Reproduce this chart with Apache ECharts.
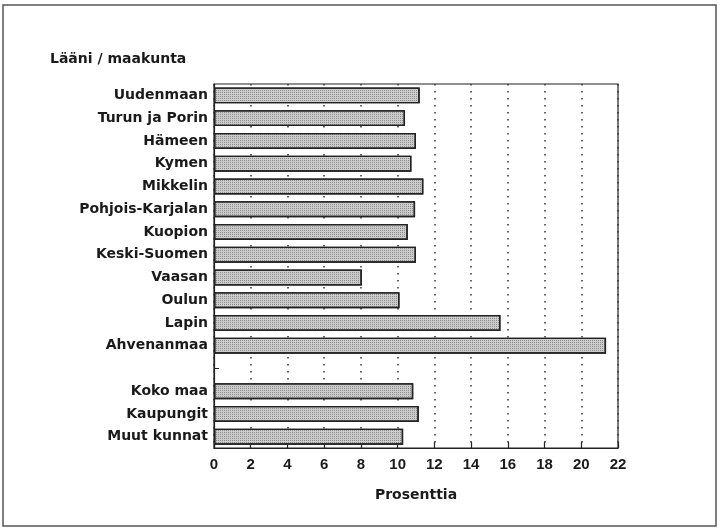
<!DOCTYPE html>
<html>
<head>
<meta charset="utf-8">
<script src="https://cdn.jsdelivr.net/npm/echarts@6/dist/echarts.min.js"></script>
<style>
  html, body { margin: 0; padding: 0; background: #fff; }
  #chart { width: 720px; height: 529px; }
</style>
</head>
<body>
<div id="chart"></div>
<script>
// läänit / maakunta, tyhjä rivi erottaa koko maan rivit
const regions = [
  'Uudenmaan', 'Turun ja Porin', 'Hämeen', 'Kymen', 'Mikkelin',
  'Pohjois-Karjalan', 'Kuopion', 'Keski-Suomen', 'Vaasan', 'Oulun',
  'Lapin', 'Ahvenanmaa', '', 'Koko maa', 'Kaupungit', 'Muut kunnat'
]
const percents = [
  11.2, 10.4, 11.0, 10.75, 11.4,
  10.95, 10.55, 11.0, 8.05, 10.1,
  15.6, 21.35, null, 10.85, 11.15, 10.3
]
const xTicks = [0, 2, 4, 6, 8, 10, 12, 14, 16, 18, 20, 22]

const font = 'DejaVu Sans, Verdana, sans-serif'
const numFont = '"Liberation Sans", Arial, sans-serif'
const ink = '#1a1a1a'

const chart = echarts.init(document.getElementById('chart'), null, { renderer: 'canvas' })

chart.setOption({
  animation: false,
  backgroundColor: '#fff',
  aria: { enabled: true, decal: { show: true } },
  textStyle: { fontFamily: font },
  graphic: [
    {
      type: 'rect',
      shape: { x: 3, y: 5, width: 713, height: 521 },
      style: { fill: 'none', stroke: '#555', lineWidth: 1.5 }
    },
    {
      type: 'text',
      left: 50,
      top: 52,
      style: { text: 'Lääni / maakunta', font: 'bold 14px ' + font, fill: ink }
    }
  ],
  grid: {
    left: 214, right: 102, top: 84, bottom: 81,
    show: true, borderColor: '#222', borderWidth: 1.2, backgroundColor: 'transparent'
  },
  xAxis: {
    type: 'value',
    min: 0,
    max: xTicks[xTicks.length - 1],
    interval: 2,
    name: 'Prosenttia',
    nameLocation: 'middle',
    nameGap: 40,
    nameTextStyle: { fontSize: 14, fontWeight: 'bold', color: ink },
    axisLine: { show: true, lineStyle: { color: '#222', width: 1.2 } },
    axisTick: { show: true, inside: true, length: 6, lineStyle: { color: '#222', width: 1.2 } },
    axisLabel: { fontSize: 15, fontWeight: 'bold', fontFamily: numFont, color: ink, margin: 9 },
    splitLine: { show: true, lineStyle: { color: '#333', width: 1.5, type: [1.5, 5.5] } }
  },
  yAxis: {
    type: 'category',
    data: regions,
    inverse: true,
    axisLine: { show: true, lineStyle: { color: '#222', width: 1.2 } },
    axisTick: { show: true, inside: true, length: 5, alignWithLabel: true, lineStyle: { color: '#222' } },
    axisLabel: { fontSize: 14, fontWeight: 'bold', color: ink, margin: 6, interval: 0 },
    splitLine: { show: false }
  },
  series: [{
    type: 'bar',
    data: percents,
    barWidth: 16,
    itemStyle: {
      color: '#cdcdcd',
      borderColor: '#222',
      borderWidth: 1.4,
      decal: {
        symbol: 'rect',
        symbolSize: 1,
        color: 'rgba(60,60,60,0.45)',
        dashArrayX: [1, 1],
        dashArrayY: [1, 1],
        rotation: 0
      }
    }
  }]
})
</script>
</body>
</html>
